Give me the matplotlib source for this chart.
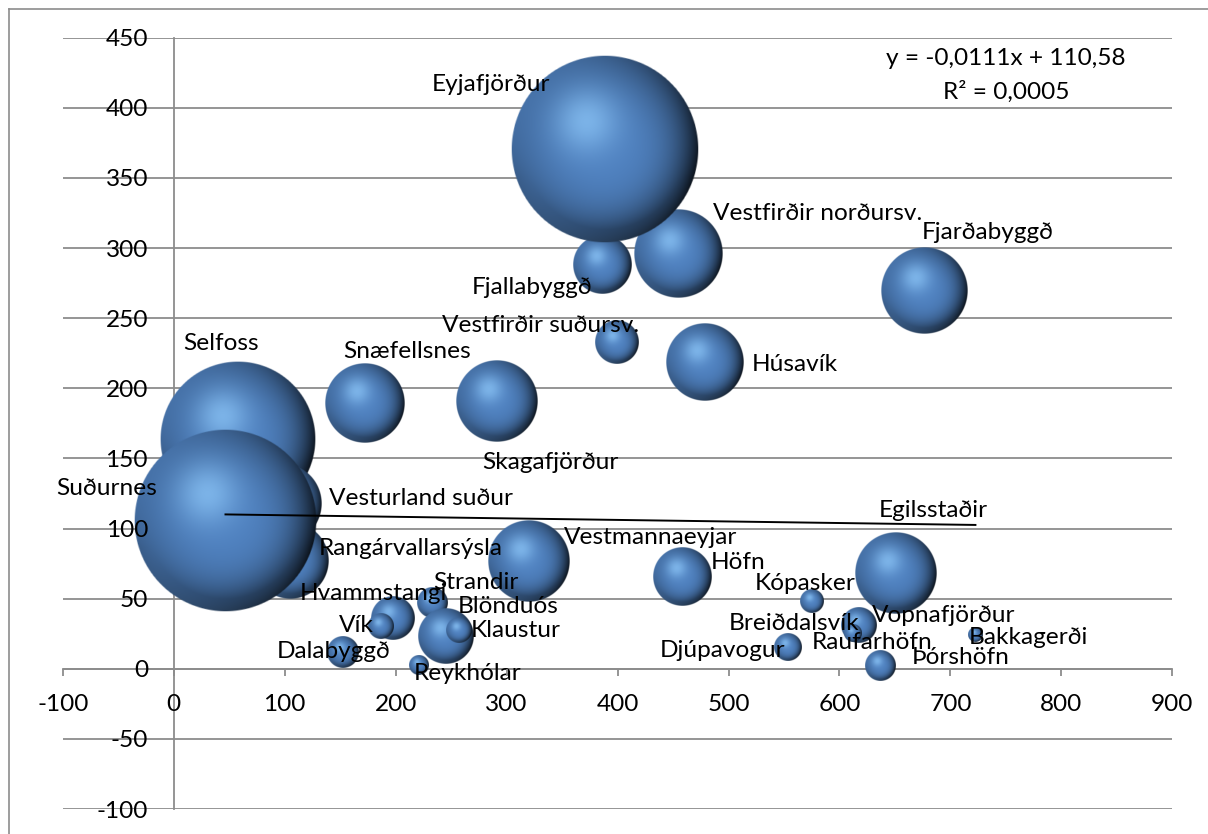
import numpy as np
import matplotlib
matplotlib.use("Agg")
import matplotlib.pyplot as plt
from matplotlib.lines import Line2D

plt.rcParams['font.family'] = ['Lato', 'DejaVu Sans']
plt.rcParams['axes.unicode_minus'] = False

# --------------------------
# Data (listed in drawing order, back to front)
# --------------------------
names = [
    "Selfoss", "Vesturland suður", "Rangárvallarsýsla", "Suðurnes",
    "Snæfellsnes", "Skagafjörður", "Fjallabyggð", "Vestfirðir norðursv.",
    "Eyjafjörður", "Vestfirðir suðursv.", "Húsavík", "Fjarðabyggð",
    "Hvammstangi", "Vík", "Strandir", "Blönduós", "Klaustur", "Reykhólar",
    "Dalabyggð", "Vestmannaeyjar", "Höfn", "Kópasker", "Egilsstaðir",
    "Raufarhöfn", "Vopnafjörður", "Breiðdalsvík", "Djúpavogur", "Þórshöfn",
    "Bakkagerði",
]
x_vals = [57.7, 96.7, 104.8, 46.7, 171.9, 291.3, 386.0, 454.9, 388.2, 399.5,
          478.8, 676.1, 197.2, 186.8, 233.6, 244.9, 256.6, 220.6, 153.0,
          319.7, 458.0, 575.2, 650.4, 614.9, 617.6, 612.2, 553.1, 636.9, 722.5]
y_vals = [163.5, 117.9, 77.2, 105.7, 189.2, 190.6, 287.6, 296.1, 370.6, 232.7,
          218.8, 269.4, 36.2, 30.2, 47.3, 23.4, 27.3, 2.4, 12.0,
          76.5, 65.5, 48.3, 68.3, 28.7, 30.9, 25.2, 15.2, 2.0, 24.1]
sizes = [687, 183, 165, 947, 178, 188, 96, 221, 1000, 55, 170, 211,
         53, 18, 27, 87, 18, 11, 29, 188, 96, 16, 188, 6, 35, 9, 21, 27, 6]

# label offsets from bubble centre (pixels): text centre
label_dx = [-17, 140, 121, -119, 43, 53, -70, 139, -113, -76, 90, 64,
            -19, -25, 43, 63, 57, 49, -10, 122, 56, -7, 38, 16, 85, -59, -65, 80, 53]
label_dy = [96, 5, 12, 32, 52, -61, -22, 40, 65, 17, -3, 58,
            24, 1, 20, 29, 0, -8, 0, 24, 14, 18, 62, -14, 10, 10, -3, 8, -3]

trend_slope = -0.0111
trend_intercept = 110.58
r_squared = 0.0005

x_ticks = list(range(-100, 901, 100))
y_ticks = list(range(-100, 451, 50))

# --------------------------
# Layout
# --------------------------
W_PX, H_PX, DPI = 1208, 834, 100
AX_L, AX_B, AX_W, AX_H = 62.7 / W_PX, 25 / H_PX, 1109.7 / W_PX, 771.3 / H_PX
XLIM, YLIM = (-100, 900), (-100, 450)
GRID = "#8c8c8c"
FS = 17.6


def sphere_rgba(n=240):
    # shaded "3-D bubble" look: light spot upper left, dark rim lower right
    yy, xx = np.mgrid[1:-1:n * 1j, -1:1:n * 1j]
    rr = np.sqrt(xx ** 2 + yy ** 2)
    base = np.array([0.31, 0.505, 0.75])
    dir_dark = np.clip(0.5 + 0.5 * (0.8 * xx - 0.6 * yy), 0, 1)
    edge = np.clip(rr, 0, 1) ** 3
    shade = 1 - 0.78 * edge * dir_dark - 0.12 * edge
    col = base[None, None, :] * shade[..., None]
    hl = np.exp(-((xx + 0.2) ** 2 + (yy - 0.3) ** 2) / (2 * 0.24 ** 2))
    col = col * (1 - 0.65 * hl[..., None]) + 0.65 * hl[..., None] * np.array([0.58, 0.81, 1.0])
    rim = np.clip((rr - 0.86) / 0.14, 0, 1) * np.clip(-yy - 0.3, 0, 1)
    col += 0.35 * rim[..., None] * np.array([0.3, 0.45, 0.62])
    col = np.clip(col, 0, 1)
    alpha = np.clip((1 - rr) * n / 2.0, 0, 1)
    return np.dstack([col, alpha])


fig = plt.figure(figsize=(W_PX / DPI, H_PX / DPI), dpi=DPI)
ax = fig.add_axes([AX_L, AX_B, AX_W, AX_H])

sx = AX_W * W_PX / (XLIM[1] - XLIM[0])   # px per x unit
sy = AX_H * H_PX / (YLIM[1] - YLIM[0])   # px per y unit
d_max = 0.243 * AX_H * H_PX
img = sphere_rgba()
smax = max(sizes)

for yt in y_ticks:
    ax.axhline(yt, color=GRID, lw=1.3, zorder=0.5)

for i, (name, x, y, s) in enumerate(zip(names, x_vals, y_vals, sizes)):
    d = d_max * np.sqrt(s / smax)
    w, h = d / sx, d / sy
    ax.imshow(img, extent=[x - w / 2, x + w / 2, y - h / 2, y + h / 2],
              aspect='auto', interpolation='bilinear', zorder=3 + i * 0.01)
    ax.annotate(name, (x, y), xytext=(label_dx[i], label_dy[i]),
                textcoords='offset pixels', ha='center', va='center',
                fontsize=FS, zorder=10)

# linear trendline
tx = np.array([min(x_vals), max(x_vals)])
ax.plot(tx, trend_slope * tx + trend_intercept, color='black', lw=1.4, zorder=5)
eq = f"y = {trend_slope:.4f}x + {trend_intercept:.2f}".replace(".", ",")
ax.text(0.850, 0.973, eq, transform=ax.transAxes, ha='center', va='center', fontsize=FS, zorder=10)
ax.text(0.850, 0.930, f"R² = {r_squared:.4f}".replace(".", ","), transform=ax.transAxes,
        ha='center', va='center', fontsize=FS, zorder=10)

ax.set_xlim(*XLIM)
ax.set_ylim(*YLIM)
ax.set_xticks(x_ticks)
ax.set_yticks(y_ticks)
for side in ("top", "right"):
    ax.spines[side].set_visible(False)
ax.spines["left"].set_position(("data", 0))
ax.spines["bottom"].set_position(("data", 0))
for side in ("left", "bottom"):
    ax.spines[side].set_color(GRID)
    ax.spines[side].set_linewidth(1.3)
    ax.spines[side].set_zorder(1)
ax.xaxis.set_zorder(20)
ax.yaxis.set_zorder(20)
ax.tick_params(axis='x', direction='out', length=5, width=1.3, color=GRID, pad=13, labelsize=FS)
ax.tick_params(axis='y', length=0, pad=18.5, labelsize=FS)
ax.patch.set_visible(False)

# chart area border
bx, by = 8.5 / W_PX, 1 - 8.5 / H_PX
fig.add_artist(Line2D([bx, bx], [0, by], transform=fig.transFigure, color=GRID, lw=1.2))
fig.add_artist(Line2D([bx, 1], [by, by], transform=fig.transFigure, color=GRID, lw=1.2))

fig.savefig("out.png", dpi=DPI)
